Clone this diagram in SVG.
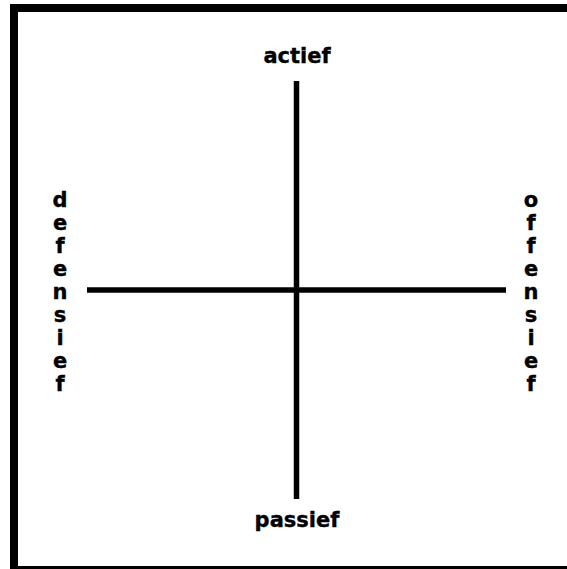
<svg xmlns="http://www.w3.org/2000/svg" width="567" height="569" viewBox="0 0 567 569">
<style>
.lbl{font-family:"DejaVu Sans",Verdana,sans-serif;font-weight:bold;font-size:21px;fill:#000;stroke:#000;stroke-width:0.35;text-anchor:middle}
.ax{stroke:#000;stroke-width:5.5;fill:none}
</style>
<rect width="567" height="569" fill="#fff"/>
<g id="frame" fill="#000">
<rect x="10" y="4" width="557" height="8"/>
<rect x="10" y="4" width="8" height="565"/>
<rect x="10" y="566" width="557" height="3"/>
</g>
<g id="connectors">
<line class="ax" x1="296.5" y1="81" x2="296.5" y2="499"/>
<line class="ax" x1="87" y1="290" x2="506" y2="290"/>
</g>
<g id="actief"><text class="lbl" x="297" y="63">actief</text></g>
<g id="passief"><text class="lbl" x="297" y="527">passief</text></g>
<g id="defensief">
<text class="lbl" x="60" y="207">d</text>
<text class="lbl" x="60" y="230">e</text>
<text class="lbl" x="60" y="253">f</text>
<text class="lbl" x="60" y="276">e</text>
<text class="lbl" x="60" y="299">n</text>
<text class="lbl" x="60" y="322">s</text>
<text class="lbl" x="60" y="345">i</text>
<text class="lbl" x="60" y="368">e</text>
<text class="lbl" x="60" y="391">f</text>
</g>
<g id="offensief">
<text class="lbl" x="531" y="207">o</text>
<text class="lbl" x="531" y="230">f</text>
<text class="lbl" x="531" y="253">f</text>
<text class="lbl" x="531" y="276">e</text>
<text class="lbl" x="531" y="299">n</text>
<text class="lbl" x="531" y="322">s</text>
<text class="lbl" x="531" y="345">i</text>
<text class="lbl" x="531" y="368">e</text>
<text class="lbl" x="531" y="391">f</text>
</g>
</svg>
